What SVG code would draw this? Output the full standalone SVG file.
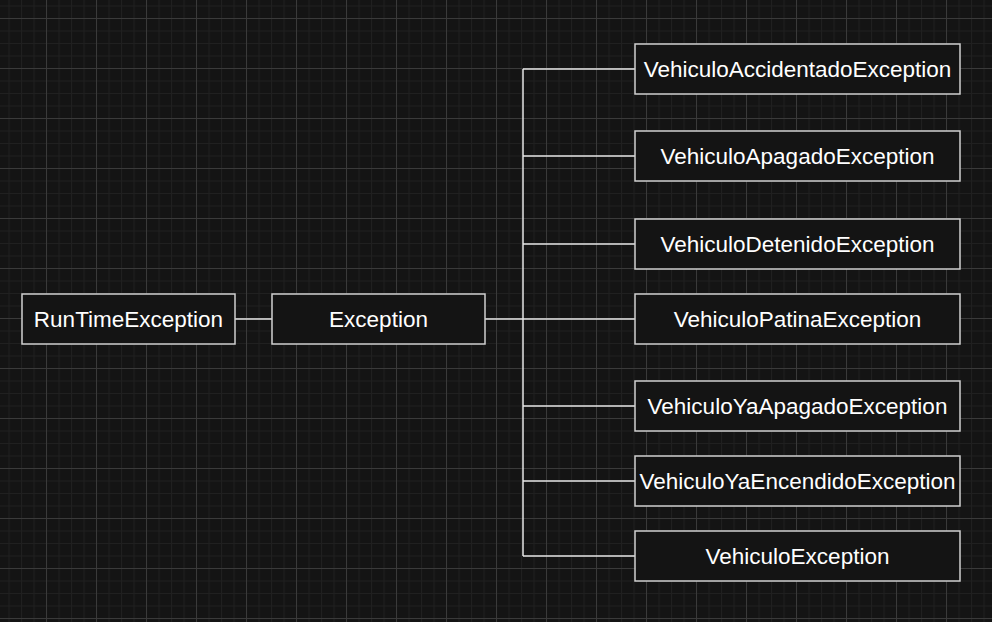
<svg xmlns="http://www.w3.org/2000/svg" width="992" height="622" viewBox="0 0 992 622">
<defs>
<pattern id="minor" width="12.5" height="12.5" patternUnits="userSpaceOnUse" x="-4" y="18">
<path d="M0 0.5H12.5M0.5 0V12.5" fill="none" stroke="#202020" stroke-width="1"/>
</pattern>
<pattern id="major" width="50" height="50" patternUnits="userSpaceOnUse" x="-4" y="18">
<path d="M0 0.5H50M0.5 0V50" fill="none" stroke="#3a3a3a" stroke-width="1"/>
</pattern>
</defs>
<style>
.box{fill:#141414;stroke:#cfcfcf;stroke-width:1.5}
.lbl{fill:#ffffff;font-family:"Liberation Sans",Arial,sans-serif;font-size:22.5px;text-anchor:middle;dominant-baseline:central}
.edge{fill:none;stroke:#e6e6e6;stroke-width:1.5}
</style>
<rect width="992" height="622" fill="#141414"/>
<rect width="992" height="622" fill="url(#minor)"/>
<rect width="992" height="622" fill="url(#major)"/>
<g id="connectors">
<path class="edge" d="M235 319H272"/>
<path class="edge" d="M485 319H635"/>
<path class="edge" d="M523 69V556"/>
<path class="edge" d="M523 69H635M523 156H635M523 244H635M523 406H635M523 481H635M523 556H635"/>
</g>
<g id="runtime"><rect class="box" x="22" y="294" width="213" height="50"/><text class="lbl" x="128.5" y="319">RunTimeException</text></g>
<g id="exception"><rect class="box" x="272" y="294" width="213" height="50"/><text class="lbl" x="378.5" y="319">Exception</text></g>
<g id="accidentado"><rect class="box" x="635" y="44" width="325" height="50"/><text class="lbl" x="797.5" y="69">VehiculoAccidentadoException</text></g>
<g id="apagado"><rect class="box" x="635" y="131" width="325" height="50"/><text class="lbl" x="797.5" y="156">VehiculoApagadoException</text></g>
<g id="detenido"><rect class="box" x="635" y="219" width="325" height="50"/><text class="lbl" x="797.5" y="244">VehiculoDetenidoException</text></g>
<g id="patina"><rect class="box" x="635" y="294" width="325" height="50"/><text class="lbl" x="797.5" y="319">VehiculoPatinaException</text></g>
<g id="yaapagado"><rect class="box" x="635" y="381" width="325" height="50"/><text class="lbl" x="797.5" y="406">VehiculoYaApagadoException</text></g>
<g id="yaencendido"><rect class="box" x="635" y="456" width="325" height="50"/><text class="lbl" x="797.5" y="481">VehiculoYaEncendidoException</text></g>
<g id="vehiculo"><rect class="box" x="635" y="531" width="325" height="50"/><text class="lbl" x="797.5" y="556">VehiculoException</text></g>
</svg>
